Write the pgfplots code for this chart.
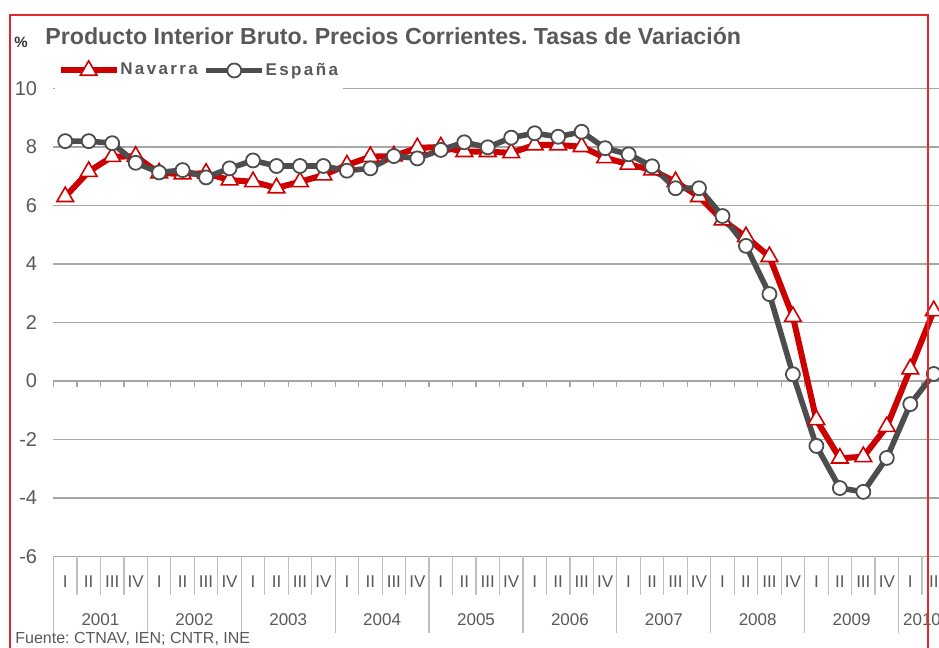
\documentclass[border=0pt]{standalone}
\usepackage{pgfplots}
\pgfplotsset{compat=1.18}
\usepackage{pgfplotstable}
\usepackage{fontspec}
\setmainfont{Liberation Sans}
\newfontfamily\legfont[LetterSpace=14]{Liberation Sans}
\definecolor{navred}{HTML}{CC0000}
\definecolor{espgray}{HTML}{4D4D4D}
\definecolor{txtgray}{HTML}{595959}
\definecolor{gridgray}{HTML}{A6A6A6}
\definecolor{sepgray}{HTML}{BFBFBF}
\definecolor{framered}{HTML}{E0282E}

\pgfplotstableread{
x y
0 6.30
1 7.16
2 7.67
3 7.68
4 7.11
5 7.08
6 7.10
7 6.87
8 6.81
9 6.60
10 6.81
11 7.04
12 7.38
13 7.67
14 7.69
15 7.97
16 8.00
17 7.84
18 7.84
19 7.80
20 8.07
21 8.07
22 8.01
23 7.63
24 7.41
25 7.21
26 6.81
27 6.30
28 5.50
29 4.93
30 4.25
31 2.20
32 -1.33
33 -2.64
34 -2.59
35 -1.56
36 0.41
37 2.40
}\navarra

\pgfplotstableread{
x y
0 8.20
1 8.20
2 8.13
3 7.46
4 7.13
5 7.21
6 6.96
7 7.27
8 7.54
9 7.35
10 7.35
11 7.35
12 7.19
13 7.27
14 7.69
15 7.61
16 7.90
17 8.16
18 7.99
19 8.32
20 8.47
21 8.35
22 8.52
23 7.96
24 7.75
25 7.34
26 6.59
27 6.59
28 5.64
29 4.62
30 2.97
31 0.23
32 -2.22
33 -3.66
34 -3.79
35 -2.63
36 -0.79
37 0.24
}\espana

\begin{document}
\frenchspacing
\begin{tikzpicture}
\useasboundingbox (0,0) rectangle (469.5pt,324pt);
\begin{axis}[
  at={(26.75pt,45.75pt)}, anchor=south west,
  scale only axis, width=446pt, height=234pt,
  xmin=-0.5, xmax=37.5, ymin=-6, ymax=10,
  clip=false,
  axis line style={draw=none},
  major tick length=0pt,
  ytick={-6,-4,-2,0,2,4,6,8,10},
  yticklabels={-6,-4,-2,0,2,4,6,8,10},
  yticklabel style={font=\fontsize{10}{12}\selectfont, text=txtgray, anchor=east, inner sep=0pt, xshift=-8pt},
  xtick={0,...,37},
  xticklabels={I,II,III,IV,I,II,III,IV,I,II,III,IV,I,II,III,IV,I,II,III,IV,I,II,III,IV,I,II,III,IV,I,II,III,IV,I,II,III,IV,I,II},
  xticklabel style={font=\fontsize{8.5}{10}\selectfont, text=txtgray, anchor=center, inner sep=0pt, yshift=-12.75pt},
  ymajorgrids,
  grid style={gridgray, line width=0.6pt},
  legend columns=2,
  legend style={at={(0.002,1.040)}, anchor=west, draw=none, fill=white, inner sep=1pt,
    nodes={inner sep=0.3pt},
    font=\legfont\bfseries\fontsize{8.5}{10}\selectfont, text=txtgray,
    /tikz/every even column/.append style={column sep=2.5pt}},
  legend image code/.code={\draw[mark repeat=2, mark phase=2, #1] plot coordinates {(0pt,0pt) (14pt,0pt) (28pt,0pt)};},
]
% cover the top gridline behind the legend
\fill[white] (axis cs:-0.44,9.6) rectangle (axis cs:11.83,10.6);
% zero axis line with small ticks
\draw[gridgray, line width=0.6pt] (axis cs:-0.5,0) -- (axis cs:37.5,0);
\pgfplotsinvokeforeach{-0.5,0.5,...,37.5}{\draw[gridgray, line width=0.6pt] (axis cs:#1,0) -- ++(0pt,-3pt);}
% category separators
\pgfplotsinvokeforeach{-0.5,0.5,...,37.5}{\draw[sepgray, line width=0.6pt] (axis cs:#1,-6) -- ++(0pt,-19.25pt);}
\pgfplotsinvokeforeach{-0.5,3.5,...,35.5}{\draw[sepgray, line width=0.6pt] (axis cs:#1,-6) -- ++(0pt,-38.25pt);}
% year labels
\begin{scope}[every node/.style={font=\fontsize{8.5}{10}\selectfont, text=txtgray, inner sep=0pt, yshift=-31.75pt}]
\node at (axis cs:1.5,-6) {2001};
\node at (axis cs:5.5,-6) {2002};
\node at (axis cs:9.5,-6) {2003};
\node at (axis cs:13.5,-6) {2004};
\node at (axis cs:17.5,-6) {2005};
\node at (axis cs:21.5,-6) {2006};
\node at (axis cs:25.5,-6) {2007};
\node at (axis cs:29.5,-6) {2008};
\node at (axis cs:33.5,-6) {2009};
\node at (axis cs:36.5,-6) {2010};
\end{scope}
\addplot[navred, line width=3pt, mark=triangle*, mark size=4.8pt,
  mark options={solid, fill=white, draw=navred, line width=0.8pt}] table[x=x,y=y] {\navarra};
\addplot[espgray, line width=2.8pt, mark=*, mark size=3.5pt,
  mark options={solid, fill=white, draw=espgray, line width=0.9pt}] table[x=x,y=y] {\espana};
\legend{Navarra, España}
\end{axis}
\node[anchor=west, inner sep=0pt, font=\bfseries\fontsize{11.6}{13}\selectfont, text=txtgray] at (22.5pt,306pt) {Producto Interior Bruto. Precios Corrientes. Tasas de Variación};
\node[inner sep=0pt, font=\bfseries\fontsize{7.5}{9}\selectfont, text=black!80] at (10.5pt,303pt) {\%};
\node[anchor=west, inner sep=0pt, font=\fontsize{8}{9.6}\selectfont, text=txtgray] at (7.5pt,4.5pt) {Fuente: CTNAV, IEN; CNTR, INE};
\draw[framered, line width=0.9pt] (4.8pt,-5pt) -- (4.8pt,316.5pt) -- (463.9pt,316.5pt) -- (463.9pt,-5pt);
\end{tikzpicture}
\end{document}
